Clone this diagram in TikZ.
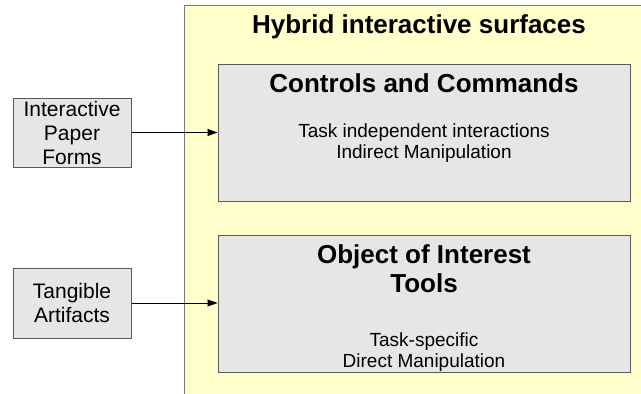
\documentclass[tikz,border=0pt]{standalone}
\usepackage{fontspec}
\setmainfont{Liberation Sans}
\usetikzlibrary{arrows.meta,positioning}
\definecolor{surface}{RGB}{255,255,204}
\definecolor{boxfill}{RGB}{230,230,230}
\definecolor{boxline}{RGB}{90,90,90}
\tikzset{
  panel/.style={draw=boxline, fill=boxfill, line width=1pt, minimum width=412pt, minimum height=137pt, inner sep=0pt},
  source/.style={draw=boxline, fill=boxfill, line width=1pt, minimum width=118pt, minimum height=69pt, inner sep=0pt, align=center, font=\fontsize{21}{24}\selectfont},
  heading/.style={font=\fontsize{26}{29}\selectfont\bfseries, align=center},
  detail/.style={font=\fontsize{19}{21}\selectfont, align=center},
  link/.style={-{Triangle[length=10pt,width=7pt]}, line width=0.7pt}
}
\begin{document}
\begin{tikzpicture}[x=1pt,y=-1pt]
    \useasboundingbox (0,0) rectangle (641,394);
    \begin{scope}
        \clip (0,0) rectangle (641,394);
        \filldraw[draw=boxline!80, fill=surface, line width=1pt] (184,5) rectangle (660,410);
    \end{scope}
    \node[heading, anchor=base] (title) at (419,33) {Hybrid interactive surfaces};

    \node[panel] (cmd) at (424,132.5) {};
    \node[panel] (obj) at (424,303.5) {};
    % multi-line nodes: base is the last line
    \node[heading, anchor=base] (cmdhead) at (424,92) {Controls and Commands};
    \node[detail, anchor=base] (cmdtext) at (424,158) {Task independent interactions\\Indirect Manipulation};
    \node[heading, anchor=base] (objhead) at (424,292) {Object of Interest\\Tools};
    \node[detail, anchor=base] (objtext) at (424,367) {Task-specific\\Direct Manipulation};

    \node[source] (forms) at (72,132.5) {Interactive\\Paper\\Forms};
    \node[source, minimum height=70pt] (artifacts) at (72,303) {Tangible\\Artifacts};

    \draw[link] (forms.east) -- (cmd.west);
    \draw[link] (artifacts.east) -- (artifacts.east -| obj.west);
\end{tikzpicture}
\end{document}
